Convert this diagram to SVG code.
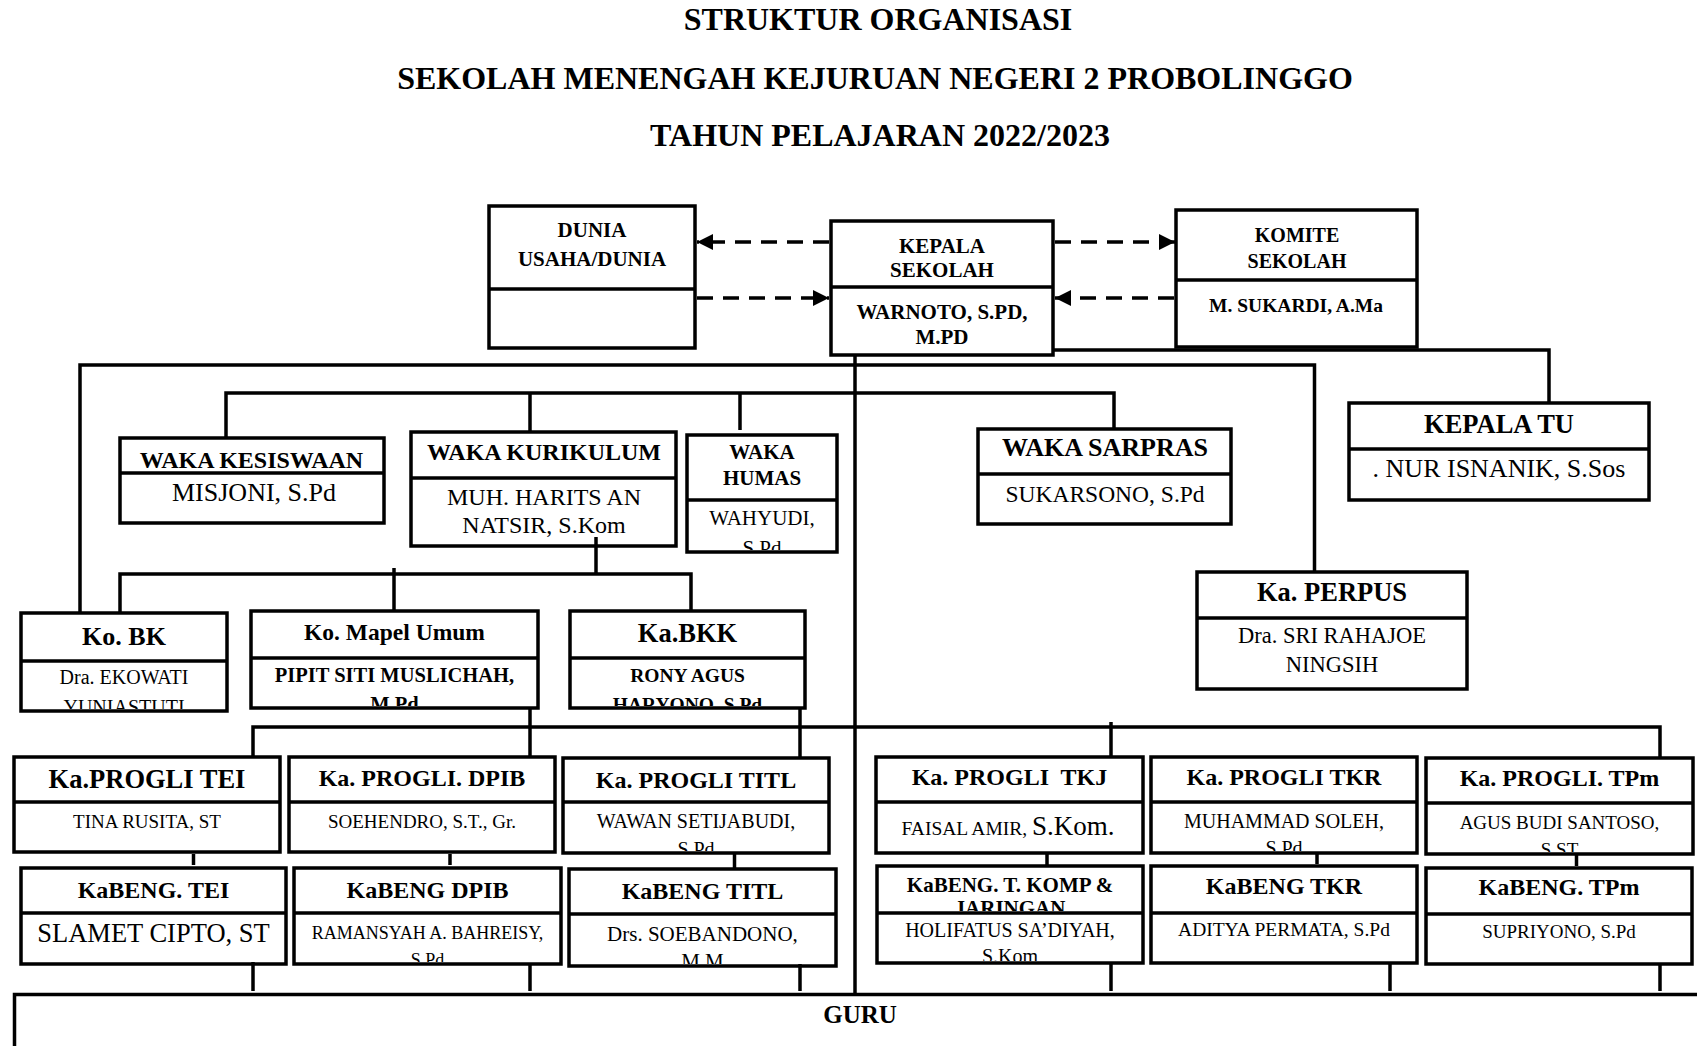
<svg xmlns="http://www.w3.org/2000/svg" width="1697" height="1046" viewBox="0 0 1697 1046">
<style>
.bx{fill:#fff;stroke:#000;stroke-width:3.5}
.dv{stroke:#000;stroke-width:3.5}
.c{stroke:#000;stroke-width:3.5;fill:none}
.d{stroke:#000;stroke-width:3.5;fill:none;stroke-dasharray:16 10}
text{font-family:"Liberation Serif","Times New Roman",serif;text-anchor:middle;fill:#000}
.b{font-weight:bold}
</style>
<defs>
<marker id="ah" markerUnits="userSpaceOnUse" markerWidth="18" markerHeight="16" refX="16" refY="8" orient="auto">
<path d="M0,0 L16,8 L0,16 Z" fill="#000"/>
</marker>
<clipPath id="cl-humas"><rect x="687" y="500" width="150" height="50"/></clipPath>
<clipPath id="cl-kobk"><rect x="21" y="661" width="206" height="48"/></clipPath>
<clipPath id="cl-mapel"><rect x="251" y="658" width="287" height="48"/></clipPath>
<clipPath id="cl-bkk"><rect x="570" y="658" width="235" height="48"/></clipPath>
<clipPath id="cl-titl"><rect x="563" y="802" width="266" height="49"/></clipPath>
<clipPath id="cl-tkr"><rect x="1151" y="802" width="266" height="49"/></clipPath>
<clipPath id="cl-tpm"><rect x="1426" y="803" width="267" height="49"/></clipPath>
<clipPath id="cl-kdpib"><rect x="294" y="913" width="267" height="49"/></clipPath>
<clipPath id="cl-ktitl"><rect x="569" y="914" width="267" height="50"/></clipPath>
<clipPath id="cl-kkomp1"><rect x="877" y="866" width="266" height="45"/></clipPath>
<clipPath id="cl-kkomp2"><rect x="877" y="913" width="266" height="48"/></clipPath>
</defs>

<g id="title">
<text class="b" x="878" y="30" font-size="32">STRUKTUR ORGANISASI</text>
<text class="b" x="875" y="89" font-size="32">SEKOLAH MENENGAH KEJURUAN NEGERI 2 PROBOLINGGO</text>
<text class="b" x="880" y="146" font-size="32">TAHUN PELAJARAN 2022/2023</text>
</g>

<g id="dunia">
<rect class="bx" x="489" y="206" width="206" height="142"/>
<line class="dv" x1="489" y1="289" x2="695" y2="289"/>
<text class="b" x="592" y="237" font-size="21">DUNIA</text>
<text class="b" x="592" y="266" font-size="21">USAHA/DUNIA</text>
</g>

<g id="kepala-sekolah">
<rect class="bx" x="831" y="221" width="222" height="134"/>
<line class="dv" x1="831" y1="287" x2="1053" y2="287"/>
<text class="b" x="942" y="253" font-size="21">KEPALA</text>
<text class="b" x="942" y="277" font-size="21">SEKOLAH</text>
<text class="b" x="942" y="319" font-size="21">WARNOTO, S.PD,</text>
<text class="b" x="942" y="344" font-size="21">M.PD</text>
</g>

<g id="komite">
<rect class="bx" x="1176" y="210" width="241" height="137"/>
<line class="dv" x1="1176" y1="280" x2="1417" y2="280"/>
<text class="b" x="1297" y="241.5" font-size="20">KOMITE</text>
<text class="b" x="1297" y="268" font-size="20">SEKOLAH</text>
<text class="b" x="1296" y="312" font-size="19.5">M. SUKARDI, A.Ma</text>
</g>

<g id="kepala-tu">
<rect class="bx" x="1349" y="403" width="300" height="97"/>
<line class="dv" x1="1349" y1="449" x2="1649" y2="449"/>
<text class="b" x="1499" y="433" font-size="26.5">KEPALA TU</text>
<text x="1499" y="477" font-size="26">. NUR ISNANIK, S.Sos</text>
</g>

<g id="waka-kesiswaan">
<rect class="bx" x="120" y="438" width="264" height="85"/>
<line class="dv" x1="120" y1="473" x2="384" y2="473"/>
<text class="b" x="251.5" y="468" font-size="24">WAKA KESISWAAN</text>
<text x="254" y="501" font-size="26">MISJONI, S.Pd</text>
</g>

<g id="waka-kurikulum">
<rect class="bx" x="411" y="432" width="265" height="114"/>
<line class="dv" x1="411" y1="478" x2="676" y2="478"/>
<text class="b" x="544" y="460" font-size="24">WAKA KURIKULUM</text>
<text x="544" y="504.5" font-size="24">MUH. HARITS AN</text>
<text x="544" y="533" font-size="24">NATSIR, S.Kom</text>
</g>

<g id="waka-humas">
<rect class="bx" x="687" y="435" width="150" height="117"/>
<line class="dv" x1="687" y1="500" x2="837" y2="500"/>
<text class="b" x="762" y="458.5" font-size="21">WAKA</text>
<text class="b" x="762" y="484.5" font-size="21">HUMAS</text>
<text x="762" y="525" font-size="21">WAHYUDI,</text>
<text x="762" y="554.5" font-size="21" clip-path="url(#cl-humas)">S.Pd</text>
</g>

<g id="waka-sarpras">
<rect class="bx" x="978" y="429" width="253" height="95"/>
<line class="dv" x1="978" y1="474" x2="1231" y2="474"/>
<text class="b" x="1105" y="456" font-size="26">WAKA SARPRAS</text>
<text x="1105" y="502" font-size="23.5">SUKARSONO, S.Pd</text>
</g>

<g id="ka-perpus">
<rect class="bx" x="1197" y="572" width="270" height="117"/>
<line class="dv" x1="1197" y1="618" x2="1467" y2="618"/>
<text class="b" x="1332" y="600.7" font-size="26.5">Ka. PERPUS</text>
<text x="1332" y="643" font-size="22.5">Dra. SRI RAHAJOE</text>
<text x="1332" y="672" font-size="22.5">NINGSIH</text>
</g>

<g id="ko-bk">
<rect class="bx" x="21" y="613" width="206" height="98"/>
<line class="dv" x1="21" y1="661" x2="227" y2="661"/>
<text class="b" x="124" y="644.5" font-size="26">Ko. BK</text>
<text x="124" y="683.5" font-size="20">Dra. EKOWATI</text>
<text x="124" y="714" font-size="20" clip-path="url(#cl-kobk)">YUNIASTUTI</text>
</g>

<g id="ko-mapel-umum">
<rect class="bx" x="251" y="611" width="287" height="97"/>
<line class="dv" x1="251" y1="658" x2="538" y2="658"/>
<text class="b" x="394.5" y="639.5" font-size="23.5">Ko. Mapel Umum</text>
<text class="b" x="394.5" y="681.5" font-size="20.5">PIPIT SITI MUSLICHAH,</text>
<text class="b" x="394.5" y="711" font-size="20.5" clip-path="url(#cl-mapel)">M.Pd</text>
</g>

<g id="ka-bkk">
<rect class="bx" x="570" y="611" width="235" height="97"/>
<line class="dv" x1="570" y1="658" x2="805" y2="658"/>
<text class="b" x="687.5" y="641.7" font-size="26.5">Ka.BKK</text>
<text class="b" x="687.5" y="681.5" font-size="19.5">RONY AGUS</text>
<text class="b" x="687.5" y="711" font-size="19.5" clip-path="url(#cl-bkk)">HARYONO, S.Pd</text>
</g>

<g id="progli-tei">
<rect class="bx" x="14" y="757" width="266" height="95"/>
<line class="dv" x1="14" y1="802" x2="280" y2="802"/>
<text class="b" x="147" y="787.5" font-size="26.5">Ka.PROGLI TEI</text>
<text x="147" y="827.5" font-size="19">TINA RUSITA, ST</text>
</g>

<g id="progli-dpib">
<rect class="bx" x="289" y="757" width="266" height="95"/>
<line class="dv" x1="289" y1="802" x2="555" y2="802"/>
<text class="b" x="422" y="786" font-size="24">Ka. PROGLI. DPIB</text>
<text x="422" y="827.5" font-size="19">SOEHENDRO, S.T., Gr.</text>
</g>

<g id="progli-titl">
<rect class="bx" x="563" y="758" width="266" height="95"/>
<line class="dv" x1="563" y1="802" x2="829" y2="802"/>
<text class="b" x="696" y="787.5" font-size="24">Ka. PROGLI TITL</text>
<text x="696" y="828" font-size="20">WAWAN SETIJABUDI,</text>
<text x="696" y="856" font-size="20" clip-path="url(#cl-titl)">S.Pd</text>
</g>

<g id="kabeng-tei">
<rect class="bx" x="21" y="868" width="265" height="96"/>
<line class="dv" x1="21" y1="913" x2="286" y2="913"/>
<text class="b" x="153.5" y="897.5" font-size="24">KaBENG. TEI</text>
<text x="153.5" y="942" font-size="26.5">SLAMET CIPTO, ST</text>
</g>

<g id="kabeng-dpib">
<rect class="bx" x="294" y="868" width="267" height="96"/>
<line class="dv" x1="294" y1="913" x2="561" y2="913"/>
<text class="b" x="427.5" y="897.5" font-size="24">KaBENG DPIB</text>
<text x="427.5" y="939" font-size="18">RAMANSYAH A. BAHREISY,</text>
<text x="427.5" y="966" font-size="18" clip-path="url(#cl-kdpib)">S.Pd</text>
</g>

<g id="kabeng-titl">
<rect class="bx" x="569" y="869" width="267" height="97"/>
<line class="dv" x1="569" y1="914" x2="836" y2="914"/>
<text class="b" x="702.5" y="899" font-size="24">KaBENG TITL</text>
<text x="702.5" y="941" font-size="21">Drs. SOEBANDONO,</text>
<text x="702.5" y="968" font-size="21" clip-path="url(#cl-ktitl)">M.M</text>
</g>

<g id="progli-tkj">
<rect class="bx" x="876" y="757" width="267" height="96"/>
<line class="dv" x1="876" y1="802" x2="1143" y2="802"/>
<text class="b" x="1009.5" y="784.5" font-size="24" style="white-space:pre">Ka. PROGLI  TKJ</text>
<text x="1008" y="835"><tspan font-size="19.5">FAISAL AMIR, </tspan><tspan font-size="27">S.Kom.</tspan></text>
</g>

<g id="progli-tkr">
<rect class="bx" x="1151" y="757" width="266" height="96"/>
<line class="dv" x1="1151" y1="802" x2="1417" y2="802"/>
<text class="b" x="1284" y="784.5" font-size="24">Ka. PROGLI TKR</text>
<text x="1284" y="827.5" font-size="20">MUHAMMAD SOLEH,</text>
<text x="1284" y="855" font-size="20" clip-path="url(#cl-tkr)">S.Pd</text>
</g>

<g id="progli-tpm">
<rect class="bx" x="1426" y="758" width="267" height="96"/>
<line class="dv" x1="1426" y1="803" x2="1693" y2="803"/>
<text class="b" x="1559.5" y="786" font-size="24">Ka. PROGLI. TPm</text>
<text x="1559.5" y="828.5" font-size="19">AGUS BUDI SANTOSO,</text>
<text x="1559.5" y="856" font-size="19" clip-path="url(#cl-tpm)">S.ST</text>
</g>

<g id="kabeng-tkomp">
<rect class="bx" x="877" y="866" width="266" height="97"/>
<text class="b" x="1010" y="891.5" font-size="21">KaBENG. T. KOMP &amp;</text>
<text class="b" x="1010" y="915" font-size="21" clip-path="url(#cl-kkomp1)">JARINGAN</text>
<line class="dv" x1="877" y1="913" x2="1143" y2="913"/>
<text x="1010" y="936.5" font-size="20">HOLIFATUS SA’DIYAH,</text>
<text x="1010" y="963" font-size="20" clip-path="url(#cl-kkomp2)">S.Kom</text>
</g>

<g id="kabeng-tkr">
<rect class="bx" x="1151" y="866" width="266" height="97"/>
<line class="dv" x1="1151" y1="913" x2="1417" y2="913"/>
<text class="b" x="1284" y="893.5" font-size="24">KaBENG TKR</text>
<text x="1284" y="935.5" font-size="19.5">ADITYA PERMATA, S.Pd</text>
</g>

<g id="kabeng-tpm">
<rect class="bx" x="1426" y="868" width="266" height="96"/>
<line class="dv" x1="1426" y1="914" x2="1692" y2="914"/>
<text class="b" x="1559" y="894.5" font-size="24">KaBENG. TPm</text>
<text x="1559" y="937.5" font-size="19">SUPRIYONO, S.Pd</text>
</g>

<g id="guru">
<path class="c" d="M14.5,1050 V994.5 H1700"/>
<text class="b" x="860" y="1023" font-size="25">GURU</text>
</g>

<g id="connectors">
<line class="d" x1="829" y1="242" x2="697" y2="242" marker-end="url(#ah)"/>
<line class="d" x1="697" y1="298" x2="829" y2="298" marker-end="url(#ah)"/>
<line class="d" x1="1055" y1="242" x2="1175" y2="242" marker-end="url(#ah)"/>
<line class="d" x1="1174" y1="298" x2="1055" y2="298" marker-end="url(#ah)"/>
<path class="c" d="M80,613 V365 H1314.5 V572"/>
<path class="c" d="M226,438 V393 H1114 V429"/>
<line class="c" x1="530" y1="393" x2="530" y2="432"/>
<line class="c" x1="740" y1="393" x2="740" y2="430"/>
<path class="c" d="M1053,350 H1549 V403"/>
<line class="c" x1="855" y1="355" x2="855" y2="994"/>
<line class="c" x1="596" y1="537" x2="596" y2="574"/>
<path class="c" d="M120,613 V574 H691 V611"/>
<line class="c" x1="394" y1="568" x2="394" y2="611"/>
<path class="c" d="M253,757 V727 H1660 V757"/>
<line class="c" x1="530" y1="708" x2="530" y2="757"/>
<line class="c" x1="800" y1="708" x2="800" y2="757"/>
<line class="c" x1="1111" y1="722" x2="1111" y2="757"/>
<line class="c" x1="193.5" y1="854" x2="193.5" y2="865"/>
<line class="c" x1="450" y1="854" x2="450" y2="865"/>
<line class="c" x1="734.5" y1="853" x2="734.5" y2="869"/>
<line class="c" x1="1047" y1="853" x2="1047" y2="865"/>
<line class="c" x1="1317" y1="853" x2="1317" y2="864"/>
<line class="c" x1="1576.5" y1="854" x2="1576.5" y2="866"/>
<line class="c" x1="253" y1="962" x2="253" y2="991"/>
<line class="c" x1="530" y1="964" x2="530" y2="991"/>
<line class="c" x1="800" y1="964" x2="800" y2="991"/>
<line class="c" x1="1111" y1="963" x2="1111" y2="991"/>
<line class="c" x1="1390" y1="963" x2="1390" y2="991"/>
<line class="c" x1="1660" y1="964" x2="1660" y2="991"/>
</g>
</svg>
